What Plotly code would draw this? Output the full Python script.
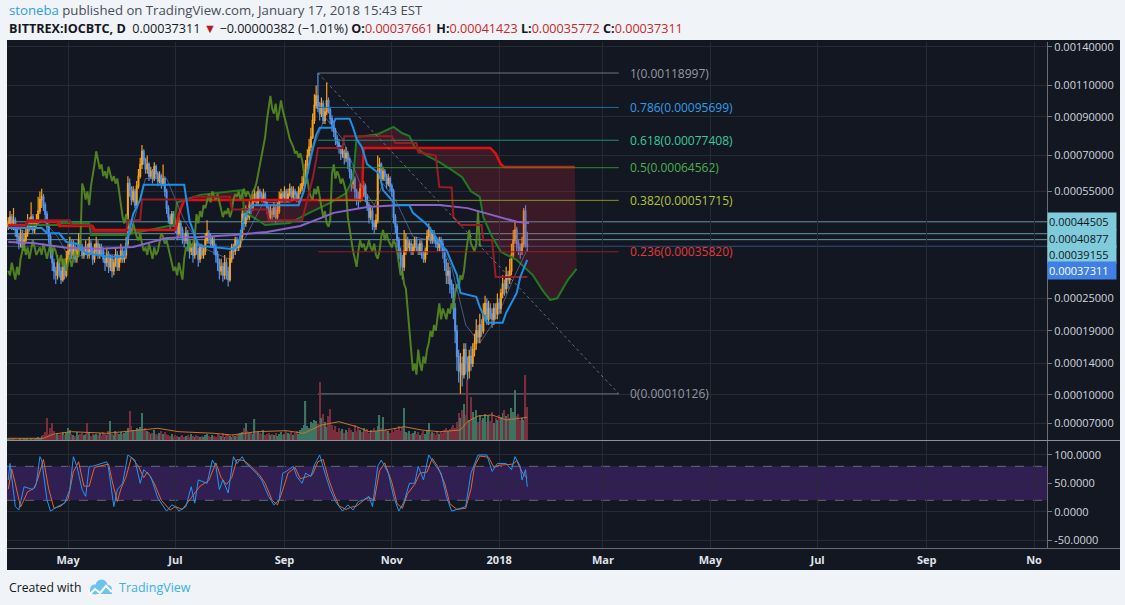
import datetime as dt
import math
from decimal import Decimal, ROUND_HALF_UP
import plotly.graph_objects as go

# ---------------- DATA (prices in satoshi, 1e-8 BTC) ----------------
START = dt.datetime(2017, 3, 28)
first_open = 43000
closes = [
44000,46000,43000,45000,42000,40000,38000,41000,37000,39000,
41000,44000,43000,46000,42000,44000,45000,48000,52000,53000,
50000,47000,43000,40000,36000,33000,31000,30000,33000,31000,
29000,32000,30000,34000,36000,38000,35000,37000,34000,36000,
39000,37000,35000,36000,37000,35000,38000,36000,34000,36000,
38000,35000,37000,36000,34000,33000,35000,32000,34000,31000,
33000,35000,32000,34000,36000,34000,35000,38000,58000,56000,
52000,55000,50000,57000,61000,66000,72000,68000,64000,66000,
61000,63000,60000,65000,62000,59000,61000,58000,60000,55000,
49000,46000,44000,47000,45000,43000,41000,44000,42000,40000,
39000,41000,38000,36000,37000,35000,38000,36000,34000,37000,
35000,36000,39000,41000,40000,38000,39000,37000,35000,33000,
31000,32000,30000,33000,31000,29000,34000,37000,36000,39000,
37000,38000,40000,47000,44000,48000,46000,50000,49000,52000,
54000,51000,55000,53000,52000,54000,51000,49000,46000,48000,
47000,49000,46000,48000,52000,54000,53000,55000,52000,54000,
56000,53000,55000,54000,52000,55000,56000,58000,62000,66000,
70000,74000,79000,88000,97000,103000,95000,92000,98000,88000,
93000,100000,94000,89000,86000,82000,78000,76000,74000,71000,
72000,69000,71000,68000,63000,58000,60000,55000,53000,52000,
56000,54000,57000,53000,50000,46000,48000,44000,43000,45000,
62000,66000,60000,63000,61000,58000,60000,57000,55000,46000,
43000,39000,36000,34000,32000,36000,39000,37000,38000,36000,
37000,39000,37000,36000,38000,35000,34000,36000,40000,42000,
39000,41000,39000,38000,37000,39000,38000,36000,33000,30000,
31000,28000,27000,23000,19000,15000,13000,14000,12500,16000,
14000,13000,15000,14000,16000,17000,19000,18000,20000,19000,
22000,24000,21000,23000,22000,21000,23000,22000,24000,23000,
26000,28000,27000,30000,29000,31000,35000,39000,42000,38000,
37000,36000,38000,48000,37661,37311,
]
highs = [
46000,48000,47000,49000,46000,43000,41000,43000,42000,41000,
44000,47000,46000,51000,47000,45000,47000,53000,55000,56000,
54000,51000,48000,44000,41000,37000,34000,32000,35000,34000,
32000,34000,33000,36000,38000,40000,39000,39000,38000,37000,
41000,40000,38000,37000,39000,38000,40000,39000,37000,38000,
40000,39000,38000,38000,37000,35000,37000,36000,35000,35000,
34000,37000,36000,35000,38000,37000,36000,40000,61000,60000,
57000,57000,56000,59000,64000,69000,75000,73000,69000,70000,
67000,65000,64000,67000,66000,63000,63000,62000,66000,61000,
56000,50000,47000,48000,48000,46000,44000,46000,45000,43000,
41000,43000,42000,39000,38000,38000,39000,39000,37000,38000,
38000,37000,41000,45000,42000,41000,40000,40000,38000,36000,
34000,34000,33000,35000,34000,32000,36000,38000,38000,40000,
40000,39000,42000,49000,48000,50000,49000,52000,51000,54000,
56000,55000,57000,56000,55000,56000,55000,52000,50000,50000,
49000,51000,50000,51000,55000,56000,55000,57000,56000,56000,
58000,57000,57000,56000,55000,57000,58000,61000,64000,68000,
73000,78000,84000,92000,104000,110000,118997,99000,102000,100000,
96000,112000,102000,96000,91000,88000,84000,80000,78000,75000,
74000,73000,74000,72000,69000,64000,62000,61000,56000,55000,
58000,57000,59000,58000,54000,51000,50000,49000,45000,47000,
70000,69000,67000,65000,64000,62000,62000,61000,58000,56000,
47000,44000,40000,37000,35000,42000,41000,40000,39000,39000,
38000,40000,40000,38000,39000,39000,36000,37000,42000,44000,
43000,42000,42000,40000,39000,40000,40000,39000,37000,34000,
33000,32000,29000,28000,24000,20000,16000,15500,15000,17000,
17000,15000,16000,16500,17000,18500,21000,20000,22000,21000,
24000,25500,25000,24500,24000,23000,24000,24000,26000,25000,
27000,30000,29000,32000,31000,34000,38000,42000,45000,43000,
39000,38000,40000,49000,50000,41423,
]
lows = [
42000,43000,42000,42000,40000,38000,36500,37000,36000,36000,
38000,40000,41500,42000,41000,41000,43000,44000,47000,49000,
48000,45000,41000,38000,34000,31000,29000,28000,29000,29500,
28000,28500,29000,29500,33000,35000,34000,34000,33000,33000,
35000,36000,34000,34000,35000,34000,34000,35000,32500,33000,
35000,34000,34000,35000,33000,31000,32000,30500,31000,29500,
30000,32000,31000,31000,33000,33000,33000,34000,37000,53000,
50000,51000,49000,49000,56000,60000,64000,66000,62000,62000,
59000,60000,58000,59000,60000,57000,58000,56000,57000,53000,
47000,44000,42000,43000,43000,41000,39000,40000,40000,38000,
37000,38000,36000,34000,35000,33000,34000,35000,32000,33000,
34000,34000,35000,38000,38000,37000,37000,35000,33000,31000,
29000,30000,28500,29000,29000,27500,28500,33000,34000,35000,
36000,36000,37000,39000,42000,43000,45000,45000,47000,48000,
51000,50000,50000,52000,51000,51000,50000,47000,45000,45000,
45000,46000,44000,45000,47000,51000,51000,52000,51000,51000,
53000,52000,52000,52000,51000,51000,54000,55000,57000,60000,
64000,69000,72000,78000,86000,95000,93000,88000,90000,86000,
86000,91000,92000,86000,82000,79000,75000,73000,71000,68000,
69000,66000,67000,64000,60000,55000,56000,52000,50000,49000,
51000,52000,53000,51000,48000,44000,45000,42000,41000,42000,
44000,60000,58000,59000,59000,56000,57000,55000,53000,44000,
41000,37000,34000,31000,29000,31000,35000,36000,36000,35000,
35000,36000,36000,35000,35000,34000,33000,33000,35000,39000,
38000,38000,38000,37000,36000,36000,36000,34000,31000,28000,
28000,26000,25000,21000,17000,13000,11500,10126,11000,12000,
12500,11500,12000,13000,13500,15000,16000,17000,17000,18000,
18500,21000,20000,20000,21000,19500,20000,21000,21000,22000,
22000,25000,25500,26000,27000,28000,30000,34000,38000,36000,
35000,34000,35000,37000,37000,35772,
]
volumes = [
2,1,2,1,2,1,1,2,1,2,1,2,1,2,2,1,2,3,2,4,
5,8,22,6,12,17,9,5,7,5,
6,8,5,7,12,10,6,5,4,8,
5,6,7,5,6,17,8,4,6,5,
6,5,7,4,8,6,5,9,19,6,
5,9,7,6,8,6,7,8,12,29,
14,10,9,12,11,13,27,10,12,9,
8,6,7,10,6,5,7,9,6,8,
6,5,4,6,3,5,4,3,4,5,
3,4,5,3,6,4,3,5,4,3,
4,3,5,6,4,3,5,4,3,6,
5,4,7,3,5,6,4,3,5,4,
5,6,7,8,12,17,9,7,8,6,
21,8,9,7,6,10,5,6,7,5,
6,5,7,4,6,8,5,6,9,7,
6,8,5,7,9,6,10,12,15,39,
14,12,18,17,20,19,16,58,22,26,
18,13,24,31,15,10,14,8,12,9,
11,7,10,8,12,10,8,15,9,13,
10,8,12,9,11,7,10,8,12,9,
14,25,12,23,10,11,9,7,10,8,
12,10,14,9,13,32,8,7,9,6,
7,9,6,8,5,7,9,6,10,17,
6,8,7,5,9,6,8,7,10,12,
9,11,13,15,12,18,27,22,30,36,
25,60,20,43,28,22,30,18,25,20,
22,26,18,24,19,28,17,22,20,25,
23,27,30,24,26,22,32,28,50,24,
26,20,22,20,65,33,
]
# indicator readings: (bar index from START, value)
tenkan_pts = [(0,42600),(19,42600),(22,41000),(29,41000),(33,38500),(39,38000),(44,35500),(52,35000),
    (57,34500),(66,34500),(68,40000),(71,47000),(75,52000),(77,57500),(100,57500),(103,45000),(108,37500),
    (128,36500),(131,38000),(134,46000),(139,50000),(165,50000),(168,55000),(172,70000),(175,80000),
    (177,84000),(184,84000),(186,89000),(194,89000),(196,84000),(198,78000),(201,74000),(204,66000),
    (211,62000),(213,55500),(218,51800),(220,50000),(228,50000),(230,47400),(237,44100),(239,42900),
    (247,37100),(249,36300),(255,30100),(257,26100),(266,25300),(268,23300),(272,20400),(281,20400),
    (283,22200),(289,26100),(291,29600),(295,33700)]
kijun_pts = [(0,43000),(10,43000),(11,45000),(35,45000),(36,43500),(47,43500),(48,41500),(67,41500),
    (68,45000),(75,45000),(76,52000),(104,52000),(105,53000),(126,53000),(127,48500),(147,48500),
    (148,45000),(167,45000),(170,52000),(173,60000),(175,68000),(176,73600),(190,73600),(191,79500),
    (218,79500),(220,76000),(232,76000),(233,71500),(243,70000),(245,56700),(252,56500),(253,46000),
    (257,43500),(269,43500),(270,39000),(275,39000),(277,29600),(295,29600)]
senkou_b_pts = [(0,43500),(10,43500),(11,44500),(28,44500),(29,43200),(48,43200),(49,42000),(95,42000),
    (97,47000),(100,51800),(201,51800),(202,73600),(274,73600),(277,71000),(280,66000),(282,64900),(322,64900)]
senkou_a_pts = [(0,43500),(29,43500),(30,44100),(46,44100),(47,40500),(66,40500),(80,42000),(94,43500),
    (96,51000),(109,53700),(133,55500),(134,48000),(146,43500),(160,44100),(171,47400),(183,50800),
    (192,54400),(196,60000),(198,79000),(210,80500),(219,84400),(224,81000),(228,79500),(231,74000),
    (238,70000),(245,67000),(252,63600),(258,60600),(263,55000),(268,53000),(270,46000),(275,40000),
    (280,35800),(289,33700),(298,30100),(304,26500),(308,24700),(312,25000),(318,28900),(323,31500)]
ma_long_pts = [(0,38500),(14,38200),(33,36900),(52,36600),(71,37100),(90,39600),(109,39900),(128,40500),
    (147,41400),(166,43200),(185,47400),(204,49400),(223,50100),(245,50100),(261,49000),(280,46000),
    (289,44500),(296,44100)]
ma_short_pts = [(0,43000),(10,41500),(20,45000),(28,40000),(35,34000),(50,36000),(65,34500),(70,42000),
    (78,60000),(90,60000),(100,45000),(110,37000),(125,34000),(135,40000),(145,51000),(160,51000),
    (168,55000),(174,75000),(180,90000),(190,78000),(200,58000),(208,50000),(213,58000),(220,52000),
    (230,40000),(245,38500),(252,32000),(260,20000),(268,17000),(278,21500),(288,30000),(295,36500)]
vol_ma_pts = [(0,1.7),(20,1.7),(26,6),(36,8.3),(56,6.7),(73,10),(85,11.7),(97,8.3),(117,6.7),(127,5),
    (141,8.3),(158,9.3),(168,6.7),(178,15),(188,18.3),(198,13.3),(205,8.3),(215,10),(225,13.3),
    (235,10),(245,8.3),(257,10),(261,18.3),(267,24),(275,25),(283,20),(295,22.7)]
stoch_k_pts = [(0,56),(1,85),(4,9),(6,3),(9,44),(14,39),(16,50),(18,97),(19,91),(22,21),(24,1),(28,9),
    (32,15),(35,39),(37,97),(39,80),(42,39),(44,27),(46,80),(48,80),(56,88),(57,77),(60,9),(62,39),
    (65,50),(68,100),(72,91),(75,50),(77,74),(81,62),(85,24),(90,1),(93,12),(95,9),(97,1),(101,9),
    (104,44),(106,15),(108,56),(113,50),(116,91),(118,80),(120,39),(122,56),(125,33),(128,97),(130,85),
    (133,97),(135,85),(137,80),(141,68),(144,56),(148,27),(151,12),(154,21),(156,68),(158,71),(162,80),
    (164,62),(167,50),(169,68),(172,62),(174,82),(177,100),(180,68),(183,39),(186,18),(190,1),(193,12),
    (196,3),(199,18),(202,21),(205,27),(207,9),(210,80),(212,91),(216,68),(219,27),(222,1),(225,18),
    (228,50),(231,50),(233,80),(236,56),(239,100),(242,85),(246,68),(249,27),(252,1),(257,6),(260,9),
    (263,68),(267,100),(272,100),(275,71),(278,85),(283,85),(286,74),(288,97),(291,80),(292,56),(294,74),(295,44)]
stoch_d_pts = [(0,40),(2,75),(4,50),(7,8),(11,35),(15,42),(17,60),(20,92),(23,40),(26,6),(30,10),(34,22),
    (37,70),(40,88),(43,45),(46,45),(49,78),(57,84),(59,55),(62,18),(64,40),(67,62),(70,96),(74,80),
    (77,60),(79,70),(83,50),(87,20),(92,3),(95,9),(99,4),(103,20),(106,32),(109,45),(114,55),(118,86),
    (121,60),(124,48),(127,60),(130,92),(134,90),(138,80),(143,64),(146,50),(150,20),(153,12),(156,38),
    (159,68),(163,78),(166,58),(170,62),(173,66),(176,88),(179,92),(182,58),(185,32),(188,10),(192,4),
    (195,8),(198,10),(202,20),(205,25),(208,20),(211,72),(214,86),(218,52),(221,14),(224,6),(227,32),
    (231,48),(234,68),(238,70),(241,94),(244,80),(248,50),(251,14),(255,4),(260,6),(263,40),(265,80),
    (268,98),(273,96),(276,78),(279,82),(284,83),(287,84),(289,90),(292,70),(294,62),(295,60)]
fib_high, fib_low = 118997, 10126
fib_ratios = ["1", "0.786", "0.618", "0.5", "0.382", "0.236", "0"]
fib_start_idx, fib_end_idx, fib_label_idx = 176, 347, 352
price_lines = [44505, 40877, 39155]
last_price = 37311
price_ticks = [140000, 110000, 90000, 70000, 55000, 25000, 19000, 14000, 10000, 7000]
stoch_ticks = [100, 50, 0, -50]
month_ticks = ["2017-05-01", "2017-07-01", "2017-09-01", "2017-11-01", "2018-01-01",
               "2018-03-01", "2018-05-01", "2018-07-01", "2018-09-01", "2018-11-01"]
month_labels = ["May", "Jul", "Sep", "Nov", "2018", "Mar", "May", "Jul", "Sep", "No"]

# ---------------- helpers ----------------
OFFSET = 0.0001  # TradingView-style log scale offset


def T(sat):
    return math.log10(float(sat) * 1e-8 + OFFSET)


def day(i):
    return START + dt.timedelta(days=i)


def pts(p, trans=T):
    return [day(i) for i, _ in p], [trans(v) if trans else v for _, v in p]


def fmt8(sat):
    return str((Decimal(sat) * Decimal("1e-8")).quantize(Decimal("1e-8"), rounding=ROUND_HALF_UP))


n = min(len(closes), len(highs), len(lows), len(volumes))
closes, highs, lows, volumes = closes[:n], highs[:n], lows[:n], volumes[:n]
opens = [first_open] + closes[:-1]
dates = [day(i) for i in range(n)]

W, H = 1125, 605
L, R, TOP, BOT = 7, 1047, 42, 548
PW, PH = R - L, BOT - TOP


def px(x):
    return (x - L) / PW


def py(y):
    return (BOT - y) / PH


Y_MAIN = [T(5410), T(144360)]
MAIN_DOM = [py(440), 1]
STOCH_DOM = [0, py(441)]
X_RANGE = ["2017-03-27 07:00", "2018-11-08 09:00"]

BG = "#131722"
GRID = "#262a35"
ORANGE = "#f7a01c"
BLUE = "#5592ea"
FONT = "Open Sans"

fig = go.Figure()
ann = []

# volume (overlay axis y3)
vol_colors = ["#3c7462" if c >= o else "#7a2d3c" for o, c in zip(opens, closes)]
fig.add_trace(go.Bar(x=dates, y=volumes, marker=dict(color=vol_colors, line=dict(width=0)),
                     width=0.7 * 86400000, xaxis="x", yaxis="y3", hoverinfo="skip"))
vx, vy = pts(vol_ma_pts, None)
fig.add_trace(go.Scatter(x=vx, y=vy, mode="lines", line=dict(color="#c8742c", width=1),
                         xaxis="x", yaxis="y3", hoverinfo="skip"))

# cloud
bx, by = pts(senkou_b_pts)
ax, ay = pts(senkou_a_pts)
fig.add_trace(go.Scatter(x=bx, y=by, mode="lines", line=dict(width=0), hoverinfo="skip"))
fig.add_trace(go.Scatter(x=ax, y=ay, mode="lines", fill="tonexty", fillcolor="rgba(200,40,60,0.22)",
                         line=dict(color="#1f7a24", width=2), hoverinfo="skip"))
fig.add_trace(go.Scatter(x=bx, y=by, mode="lines", line=dict(color="#e01010", width=2.5), hoverinfo="skip"))

# lagging span
fig.add_trace(go.Scatter(x=[day(i - 26) for i in range(26, n)], y=[T(c) for c in closes[26:]],
                         mode="lines", line=dict(color="rgba(88,140,32,0.9)", width=2), hoverinfo="skip"))

# moving averages
mx, my = pts(ma_long_pts)
fig.add_trace(go.Scatter(x=mx, y=my, mode="lines", line=dict(color="#8a62c8", width=2), hoverinfo="skip"))
sx, sy = pts(ma_short_pts)
fig.add_trace(go.Scatter(x=sx, y=sy, mode="lines", line=dict(color="rgba(120,140,200,0.55)", width=1),
                         hoverinfo="skip"))
kx, ky = pts(kijun_pts)
fig.add_trace(go.Scatter(x=kx, y=ky, mode="lines", line=dict(color="#9a1b22", width=2), hoverinfo="skip"))

# fib retracement
fib_label_colors = ["#9598a1", "#2f9ee8", "#35cc9c", "#4caf50", "#b3c43a", "#e53935", "#9598a1"]
fib_line_colors = ["#6f727c", "#1f6fa3", "#2a8a6e", "#2f8a2f", "#8a902c", "#8f1f24", "#6f727c"]
for r, lc, tc in zip(fib_ratios, fib_line_colors, fib_label_colors):
    lvl = Decimal(fib_low) + Decimal(r) * (Decimal(fib_high) - Decimal(fib_low))
    fig.add_trace(go.Scatter(x=[day(fib_start_idx), day(fib_end_idx)], y=[T(lvl), T(lvl)], mode="lines",
                             line=dict(color=lc, width=1), hoverinfo="skip"))
    ann.append(dict(x=day(fib_label_idx), y=T(lvl), xref="x", yref="y", text=f"{r}({fmt8(lvl)})",
                    showarrow=False, xanchor="left", yanchor="middle",
                    font=dict(family=FONT, size=12, color=tc)))
fig.add_trace(go.Scatter(x=[day(fib_start_idx), day(fib_end_idx)], y=[T(fib_high), T(fib_low)], mode="lines",
                         line=dict(color="rgba(140,143,152,0.7)", width=1, dash="dot"), hoverinfo="skip"))

# tenkan
tx, ty = pts(tenkan_pts)
fig.add_trace(go.Scatter(x=tx, y=ty, mode="lines", line=dict(color="#1e8fe6", width=2), hoverinfo="skip"))

# candles
fig.add_trace(go.Candlestick(x=dates, open=[T(v) for v in opens], high=[T(v) for v in highs],
                             low=[T(v) for v in lows], close=[T(v) for v in closes],
                             increasing=dict(line=dict(color=ORANGE, width=1.2), fillcolor=ORANGE),
                             decreasing=dict(line=dict(color=BLUE, width=1.2), fillcolor=BLUE),
                             whiskerwidth=0, hoverinfo="skip"))

# stochastic RSI
kx2, ky2 = pts(stoch_k_pts, None)
dx2, dy2 = pts(stoch_d_pts, None)
fig.add_trace(go.Scatter(x=dx2, y=dy2, mode="lines", line=dict(color="#e8622a", width=1),
                         xaxis="x2", yaxis="y2", hoverinfo="skip"))
fig.add_trace(go.Scatter(x=kx2, y=ky2, mode="lines", line=dict(color="#2196f3", width=1),
                         xaxis="x2", yaxis="y2", hoverinfo="skip"))

shapes = []
# dark panel
shapes.append(dict(type="rect", xref="paper", yref="paper", x0=px(7), x1=px(1120), y0=py(570), y1=py(40),
                   fillcolor=BG, line=dict(width=0), layer="below"))
# price lines
for v in price_lines:
    shapes.append(dict(type="line", xref="paper", yref="y", x0=0, x1=1, y0=T(v), y1=T(v),
                       line=dict(color="rgba(120,195,212,0.75)", width=1), layer="below"))
shapes.append(dict(type="line", xref="paper", yref="y", x0=0, x1=1, y0=T(last_price), y1=T(last_price),
                   line=dict(color="rgba(85,146,234,0.45)", width=1), layer="below"))
# stoch band
shapes.append(dict(type="rect", xref="paper", yref="y2", x0=0, x1=1, y0=20, y1=80,
                   fillcolor="rgba(120,50,200,0.30)", line=dict(width=0), layer="below"))
for lv in (80, 20):
    shapes.append(dict(type="line", xref="paper", yref="y2", x0=0, x1=1, y0=lv, y1=lv,
                       line=dict(color="rgba(150,150,165,0.6)", width=1, dash="dash"), layer="below"))
# separators
shapes.append(dict(type="line", xref="paper", yref="paper", x0=0, x1=px(1120), y0=py(440.5), y1=py(440.5),
                   line=dict(color="#8d909a", width=1)))
shapes.append(dict(type="line", xref="paper", yref="paper", x0=0, x1=px(1120), y0=py(548.5), y1=py(548.5),
                   line=dict(color="#6a6d78", width=1)))
# logo (cloud + zigzag)
for cx, cy, r in [(95, 589.5, 5), (101.5, 585.5, 6), (107.5, 589.5, 4.5)]:
    shapes.append(dict(type="circle", xref="paper", yref="paper", x0=px(cx - r), x1=px(cx + r),
                       y0=py(cy + r), y1=py(cy - r), fillcolor="#6cc3ec", line=dict(width=0)))
shapes.append(dict(type="rect", xref="paper", yref="paper", x0=px(90), x1=px(112), y0=py(594), y1=py(589),
                   fillcolor="#6cc3ec", line=dict(width=0)))
zz = [(89, 595), (95, 589), (100, 593), (106, 586), (112, 592)]
path = "M " + " L ".join(f"{px(a)},{py(b)}" for a, b in zz)
shapes.append(dict(type="path", xref="paper", yref="paper", path=path, line=dict(color="white", width=2)))

ann.append(dict(x=px(7), y=py(10), xref="paper", yref="paper", xanchor="left", yanchor="middle", showarrow=False,
                text="<span style='color:#2e9fe0'>stoneba</span> published on TradingView.com, January 17, 2018 15:43 EST",
                font=dict(family=FONT, size=13.2, color="#4a4d57")))
red = "#c62828"
line2 = ("<b>BITTREX:IOCBTC, D</b>  0.00037311 <span style='color:#b71c1c'>▼</span> −0.00000382 (−1.01%) "
         f"<b>O:</b><span style='color:{red}'>0.00037661</span> <b>H:</b><span style='color:{red}'>0.00041423</span> "
         f"<b>L:</b><span style='color:{red}'>0.00035772</span> <b>C:</b><span style='color:{red}'>0.00037311</span>")
ann.append(dict(x=px(7), y=py(29), xref="paper", yref="paper", xanchor="left", yanchor="middle", showarrow=False,
                text=line2, font=dict(family=FONT, size=12.6, color="#131722")))
ann.append(dict(x=px(7), y=py(587), xref="paper", yref="paper", xanchor="left", yanchor="middle", showarrow=False,
                text="Created with", font=dict(family=FONT, size=12.2, color="#131722")))
ann.append(dict(x=px(117), y=py(587), xref="paper", yref="paper", xanchor="left", yanchor="middle", showarrow=False,
                text="TradingView", font=dict(family=FONT, size=12.5, color="#3ab1e3")))


# price labels on the axis (stacked to avoid overlap)
def price_px(v):
    return TOP + (Y_MAIN[1] - T(v)) / (Y_MAIN[1] - Y_MAIN[0]) * (440 - TOP)


labels = [(v, "#7fcbdc", "#131722") for v in price_lines] + [(last_price, "#3f7fe6", "#ffffff")]
prev = None
for v, bg, fc in labels:
    yy = price_px(v)
    if prev is not None and yy < prev + 16.3:
        yy = prev + 16.3
    prev = yy
    ann.append(dict(x=px(1047), y=py(yy), xref="paper", yref="paper", xanchor="left", yanchor="middle",
                    showarrow=False, text=fmt8(v), bgcolor=bg, borderpad=1, width=66, align="left",
                    font=dict(family=FONT, size=11, color=fc)))

axis_font = dict(family=FONT, size=11, color="#d1d4dc")
fig.update_layout(
    width=W, height=H, margin=dict(l=L, r=W - R, t=TOP, b=H - BOT),
    paper_bgcolor="#f0f3f7", plot_bgcolor=BG, showlegend=False, hovermode=False, dragmode=False,
    barmode="overlay",
    xaxis=dict(domain=[0, 1], anchor="y", type="date", range=X_RANGE, tickvals=month_ticks,
               showticklabels=False, showgrid=True, gridcolor=GRID, zeroline=False,
               rangeslider=dict(visible=False), fixedrange=True),
    xaxis2=dict(domain=[0, 1], anchor="y2", type="date", range=X_RANGE, tickvals=month_ticks,
                ticktext=month_labels, showgrid=True, gridcolor=GRID, zeroline=False, ticks="",
                ticklabelstandoff=4,
                tickfont=dict(family=FONT, size=11, color="#e0e3eb", weight="bold"), matches="x"),
    yaxis=dict(domain=MAIN_DOM, anchor="x", side="right", range=Y_MAIN,
               tickvals=[T(v) for v in price_ticks], ticktext=[fmt8(v) for v in price_ticks],
               showgrid=True, gridcolor=GRID, zeroline=False, ticks="outside", ticklen=4,
               tickcolor="#787b86", tickfont=axis_font, showline=True, linecolor="#6a6d78"),
    yaxis2=dict(domain=STOCH_DOM, anchor="x2", side="right", range=[-64, 124.6],
                tickvals=stoch_ticks, ticktext=[f"{v:.4f}" for v in stoch_ticks],
                showgrid=True, gridcolor=GRID, zeroline=False, ticks="outside", ticklen=4,
                tickcolor="#787b86", tickfont=axis_font, showline=True, linecolor="#6a6d78"),
    yaxis3=dict(domain=MAIN_DOM, anchor="x", overlaying="y", range=[0, 398], visible=False),
)
fig.layout.shapes = shapes
fig.layout.annotations = ann
fig.write_html("out.html", config={"displayModeBar": False},
               post_script="document.body.style.margin='0px';document.body.style.padding='0px';")
